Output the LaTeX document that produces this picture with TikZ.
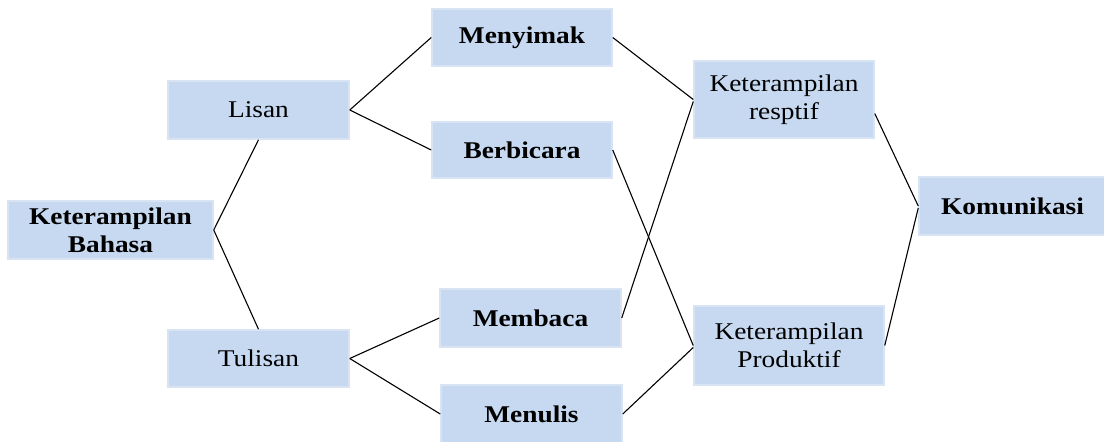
\documentclass[tikz,border=0pt]{standalone}
\usepackage{fontspec}
\setmainfont{Liberation Serif}[FakeStretch=1.14]
\usetikzlibrary{calc}
\definecolor{boxfill}{RGB}{198,217,241}
\definecolor{boxedge}{RGB}{216,228,244}
\begin{document}
\begin{tikzpicture}[x=1pt,y=-1pt,
  box/.style={rectangle, fill=boxfill, draw=boxedge, line width=1.5pt, inner sep=0pt,
    align=center, font=\fontsize{24}{28}\selectfont},
  boldbox/.style={box, font=\fontsize{24}{28}\selectfont\bfseries},
  link/.style={draw=black, line width=1.1pt}]
\useasboundingbox (0,0) rectangle (1104,442);
\node[boldbox, minimum width=205pt, minimum height=58pt] (kb) at (110.5,230) {Keterampilan\\Bahasa};
\node[box, minimum width=181pt, minimum height=58pt] (lisan) at (258.5,110) {Lisan};
\node[box, minimum width=181pt, minimum height=57pt] (tulisan) at (258.5,358.5) {Tulisan};
\node[boldbox, minimum width=180pt, minimum height=57pt] (menyimak) at (522,37.5) {Menyimak};
\node[boldbox, minimum width=180pt, minimum height=56pt] (berbicara) at (522,150) {Berbicara};
\node[boldbox, minimum width=181pt, minimum height=58pt] (membaca) at (530.5,318) {Membaca};
\node[boldbox, minimum width=181pt, minimum height=58pt] (menulis) at (531.5,414) {Menulis};
\node[box, minimum width=180pt, minimum height=77pt] (resptif) at (784,99.5) {Keterampilan\\resptif};
\node[box, minimum width=190pt, minimum height=79pt] (produktif) at (789,345.5) {Keterampilan\\Produktif};
\node[boldbox, minimum width=187pt, minimum height=58pt] (komunikasi) at (1012.5,206) {Komunikasi};

\draw[link] (kb.east) -- (lisan.south);
\draw[link] (kb.east) -- (tulisan.north);
\draw[link] (lisan.east) -- (menyimak.west);
\draw[link] (lisan.east) -- (berbicara.west);
\draw[link] (tulisan.east) -- (membaca.west);
\draw[link] (tulisan.east) -- (menulis.west);
\draw[link] (menyimak.east) -- (resptif.west);
\draw[link] (membaca.east) -- ($(resptif.west)+(0,2)$);
\draw[link] (berbicara.east) -- (produktif.west);
\draw[link] (menulis.east) -- ($(produktif.west)+(0,2)$);
\draw[link] ($(resptif.east)+(0,14)$) -- (komunikasi.west);
\draw[link] (produktif.east) -- ($(komunikasi.west)+(0,2)$);
\end{tikzpicture}
\end{document}
